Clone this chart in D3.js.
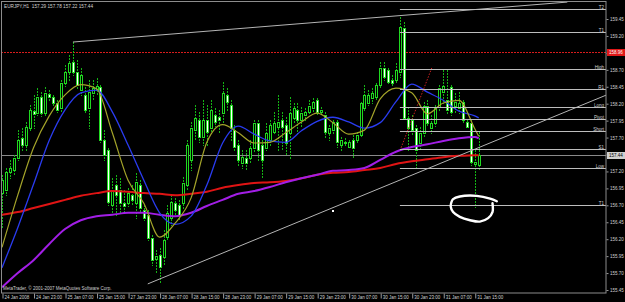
<!DOCTYPE html>
<html>
<head>
<meta charset="utf-8">
<script src="https://cdn.jsdelivr.net/npm/d3@7"></script>
<style>
html, body { margin: 0; padding: 0; background: #000; }
svg { display: block; }
text { font-family: "Liberation Sans", Arial, sans-serif; }
</style>
</head>
<body>
<svg id="chart" width="625" height="302"></svg>
<script>

//////////////////
// Data
//////////////////

// EURJPY H1, one entry per bar (bar 0 = 24 Jan 2008 15:00)
var opens = [156.88,156.93,157.19,157.22,157.40,157.69,157.59,157.84,158.09,158.06,
    158.30,158.06,158.34,158.30,158.21,158.14,158.50,158.67,158.81,158.67,
    158.40,158.33,158.14,158.36,158.40,158.45,157.66,157.52,156.70,157.00,
    156.93,156.73,156.73,156.85,156.73,157.00,156.63,156.56,156.22,155.91,
    155.97,155.94,156.23,156.51,156.73,156.70,156.73,157.00,157.37,157.81,
    157.96,157.71,157.96,157.84,158.03,158.00,158.06,158.33,158.18,157.81,
    157.59,157.32,157.40,157.40,157.55,157.91,157.59,157.55,157.66,157.78,
    157.86,157.96,157.89,157.77,157.99,158.11,157.96,158.03,158.08,158.14,
    158.25,158.08,158.03,157.77,157.81,157.93,157.59,157.63,157.56,157.66,
    157.66,157.74,158.14,158.21,158.28,158.30,158.48,158.73,158.70,158.55,
    158.55,158.67,159.32,157.99,157.96,157.84,157.62,157.77,158.17,157.84,
    157.91,158.15,158.37,158.25,158.45,158.17,158.14,158.22,157.93,157.91,
    157.31,157.29];

var highs = [157.15,157.25,157.37,157.44,157.81,157.84,157.93,158.18,158.33,158.43,
    158.37,158.45,158.40,158.33,158.25,158.55,158.77,158.92,159.11,158.84,
    158.73,158.45,158.55,158.55,158.58,158.48,157.81,157.55,157.10,157.15,
    157.10,156.93,156.96,157.00,157.18,157.07,156.70,156.63,156.26,156.04,
    156.07,156.34,156.70,156.85,156.81,156.78,157.12,157.66,157.93,158.18,
    158.08,158.25,158.18,158.25,158.14,158.11,158.52,158.43,158.25,157.89,
    157.66,157.52,157.52,157.66,157.96,157.96,157.66,157.91,157.96,158.08,
    158.33,158.08,158.00,158.30,158.21,158.21,158.15,158.14,158.25,158.28,
    158.28,158.15,158.08,157.89,157.96,157.96,157.71,157.69,157.66,157.74,
    157.78,158.22,158.48,158.40,158.43,158.50,158.81,158.81,158.73,158.62,
    158.80,159.48,159.41,158.15,158.03,157.89,157.86,158.22,158.25,158.03,
    158.18,158.48,158.70,158.70,158.48,158.36,158.37,158.25,157.96,157.96,
    157.52,157.78];

var lows = [156.37,156.85,157.10,157.15,157.37,157.52,157.52,157.81,157.84,158.03,
    158.02,158.03,158.25,158.17,158.08,158.08,158.46,158.55,158.62,158.43,
    158.33,158.08,157.84,158.25,158.33,157.63,157.37,156.70,156.57,156.56,
    156.60,156.60,156.69,156.70,156.51,156.60,156.48,156.19,155.82,155.72,
    155.55,155.82,156.19,156.41,156.57,156.48,156.66,156.93,157.22,157.66,
    157.63,157.59,157.59,157.78,157.87,157.77,157.93,158.11,157.66,157.52,
    157.29,157.25,157.22,157.34,157.49,157.37,157.12,157.52,157.59,157.77,
    157.52,157.52,157.44,157.40,157.93,157.77,157.86,157.96,158.06,158.08,
    158.03,158.03,157.71,157.66,157.77,157.56,157.52,157.57,157.55,157.41,
    157.63,157.71,158.11,158.18,158.21,158.25,158.45,158.55,158.50,158.48,
    158.52,158.59,157.96,157.52,157.74,157.27,157.52,157.71,157.87,157.77,
    157.87,158.11,158.21,158.06,158.03,158.06,158.06,157.91,157.84,157.29,
    156.67,157.22];

var closes = [157.07,157.19,157.25,157.40,157.66,157.59,157.86,158.11,158.05,158.30,
    158.06,158.36,158.30,158.21,158.11,158.50,158.67,158.80,158.67,158.48,
    158.62,158.11,158.37,158.43,158.46,157.66,157.44,156.75,156.93,156.85,
    156.73,156.69,156.88,156.78,157.04,156.66,156.51,156.22,155.89,155.95,
    155.79,156.19,156.59,156.75,156.63,156.56,157.03,157.59,157.84,157.99,
    157.71,157.96,157.78,158.11,157.93,157.96,158.36,158.22,157.84,157.56,
    157.37,157.41,157.32,157.55,157.91,157.52,157.37,157.77,157.89,157.91,
    157.93,157.86,157.62,158.06,158.14,157.96,158.06,158.08,158.17,158.22,
    158.08,158.11,157.78,157.84,157.93,157.63,157.66,157.62,157.63,157.55,
    157.74,158.21,158.33,158.33,158.36,158.48,158.73,158.59,158.52,158.50,
    158.70,159.33,157.99,157.84,157.81,157.52,157.77,158.17,157.91,157.91,
    158.14,158.43,158.46,158.11,158.08,158.22,158.21,157.96,157.86,157.34,
    157.34,157.44];

// moving averages, read every 4 bars
var maBars = [0,4,8,12,16,20,24,28,32,36,40,44,48,52,56,60,64,68,72,76,80,84,88,92,96,100,104,108,112,116,120,121];
var maFast = [156.08,156.85,157.55,158.02,158.33,158.48,158.42,157.77,157.07,156.73,156.23,156.44,156.81,157.63,157.89,157.77,
    157.62,157.63,157.77,157.93,158.06,157.92,157.75,157.81,158.27,158.43,158.36,158.05,158.21,158.25,157.83,157.72];
var maMid = [155.78,156.37,157.01,157.66,158.11,158.36,158.40,158.08,157.59,157.07,156.59,156.42,156.54,157.00,157.62,157.87,
    157.75,157.65,157.63,157.80,157.94,158.00,157.93,157.84,157.92,158.23,158.49,158.37,158.25,158.09,158.02,157.99];
var maSlow = [155.49,155.70,155.89,156.13,156.35,156.48,156.54,156.56,156.59,156.59,156.56,156.54,156.59,156.69,156.78,156.87,
    156.91,156.97,157.04,157.10,157.15,157.21,157.22,157.25,157.37,157.49,157.56,157.60,157.65,157.69,157.71,157.69];
var maLong = [156.56,156.60,156.66,156.72,156.78,156.84,156.88,156.91,156.90,156.88,156.87,156.85,156.87,156.90,156.96,157.00,
    157.03,157.04,157.06,157.10,157.15,157.18,157.19,157.22,157.25,157.31,157.35,157.38,157.41,157.43,157.44,157.44];

// horizontal levels drawn from bar 101 to the right edge
var levelNames = ["T2","T1","High","R1","Long","Pivot","Short","S1","Low","T1"];
var levelPrices = [159.60,159.26,158.71,158.42,158.15,157.97,157.80,157.53,157.25,156.70];
var levelStart = 101;

var redLinePrice = 158.96;
var bidPrice = 157.44;

// trend lines [bar, price]
var trendTop = [[18, 159.11], [143.5, 159.70]];
var trendLow = [[37, 155.54], [153.5, 158.33]];
var trendRed = [[101.3, 157.55], [109.1, 158.73]];

// hand drawn circle round the target
var circlePts = [[125.6,156.76],[123.9,156.80],[120.5,156.84],[116.2,156.83],[114.5,156.79],[114.1,156.75],
    [113.9,156.68],[114.5,156.60],[116.2,156.53],[118.8,156.48],[121.3,156.46],[123.4,156.51],[124.5,156.60],[124.5,156.73]];
var dotPt = [83.8, 156.63];

var priceTicks = [159.45,159.20,158.95,158.70,158.45,158.20,157.95,157.70,157.45,157.20,156.95,156.70,156.45,156.20,155.95,155.70,155.45];
var timeTicks = [0,8,16,24,32,40,48,56,64,72,80,88,96,104,112,120];
var timeLabels = ["24 Jan 2008","24 Jan 23:00","25 Jan 07:00","25 Jan 15:00","27 Jan 23:00","28 Jan 07:00",
    "28 Jan 15:00","28 Jan 23:00","29 Jan 07:00","29 Jan 15:00","29 Jan 23:00","30 Jan 07:00",
    "30 Jan 15:00","30 Jan 23:00","31 Jan 07:00","31 Jan 15:00"];

var titleText = "EURJPY,H1  157.29 157.78 157.22 157.44";
var copyText = "MetaTrader, \u00a9 2001-2007 MetaQuotes Software Corp.";

//////////////////
// Layout
//////////////////

var plotRight = 606;
var plotBottom = 293;
var fontSize = 4.5;
var textColor = "#d0d0d0";

var svg = d3.select("#chart");

svg.append("rect").attr("width", 625).attr("height", 302).attr("fill", "#000");

var x = d3.scaleLinear().domain([0, 121]).range([2, 478.7]);
var y = d3.scaleLinear().domain([155.45, 159.45]).range([290, 19]);

svg.append("clipPath").attr("id", "plotclip")
    .append("rect").attr("x", 1).attr("y", 1).attr("width", plotRight - 1).attr("height", plotBottom - 1);

var plot = svg.append("g").attr("clip-path", "url(#plotclip)");

function px(v) { return Math.round(v) + 0.5; }

//////////////////
// Full width lines
//////////////////

plot.append("line")
    .attr("x1", 1).attr("x2", plotRight)
    .attr("y1", px(y(redLinePrice))).attr("y2", px(y(redLinePrice)))
    .attr("stroke", "#d81c1c").attr("stroke-dasharray", "2,1");

plot.append("line")
    .attr("x1", 1).attr("x2", plotRight)
    .attr("y1", px(y(bidPrice))).attr("y2", px(y(bidPrice)))
    .attr("stroke", "#8a8a8a");

//////////////////
// Candles
//////////////////

var bars = d3.range(opens.length).map(function (i) {
    return { i: i, o: opens[i], h: highs[i], l: lows[i], c: closes[i] };
});

var candle = plot.append("g").selectAll("g")
    .data(bars)
    .enter()
    .append("g");

candle.append("line")
    .attr("x1", function (d) { return px(x(d.i)); })
    .attr("x2", function (d) { return px(x(d.i)); })
    .attr("y1", function (d) { return Math.round(y(d.h)); })
    .attr("y2", function (d) { return Math.round(y(d.l)) + 1; })
    .attr("stroke", "#14b414")
    .attr("stroke-dasharray", "2,1");

candle.append("rect")
    .attr("x", function (d) { return Math.round(x(d.i)) - 0.5; })
    .attr("width", 2)
    .attr("y", function (d) { return px(y(Math.max(d.o, d.c))); })
    .attr("height", function (d) {
        return Math.max(Math.round(y(Math.min(d.o, d.c))) - Math.round(y(Math.max(d.o, d.c))), 0.01);
    })
    .attr("fill", function (d) { return d.c >= d.o ? "#000" : "#fff"; })
    .attr("stroke", "#20d820");

//////////////////
// Moving averages
//////////////////

function maLine(values) {
    return d3.line()
        .x(function (d, i) { return x(maBars[i]); })
        .y(function (d) { return y(d); })
        .curve(d3.curveMonotoneX)(values);
}

plot.append("path").attr("d", maLine(maLong))
    .attr("fill", "none").attr("stroke", "#e01414").attr("stroke-width", 2);
plot.append("path").attr("d", maLine(maSlow))
    .attr("fill", "none").attr("stroke", "#a21ee6").attr("stroke-width", 2);
plot.append("path").attr("d", maLine(maMid))
    .attr("fill", "none").attr("stroke", "#2a3cf0").attr("stroke-width", 1.3);
plot.append("path").attr("d", maLine(maFast))
    .attr("fill", "none").attr("stroke", "#a4a42a").attr("stroke-width", 1.2);

//////////////////
// Objects
//////////////////

var segLine = d3.line()
    .x(function (d) { return x(d[0]); })
    .y(function (d) { return y(d[1]); });

plot.append("path").attr("d", segLine(trendTop))
    .attr("fill", "none").attr("stroke", "#b4b4b4").attr("stroke-width", 1);
plot.append("path").attr("d", segLine(trendLow))
    .attr("fill", "none").attr("stroke", "#b4b4b4").attr("stroke-width", 1);
plot.append("path").attr("d", segLine(trendRed))
    .attr("fill", "none").attr("stroke", "#c82020").attr("stroke-width", 1)
    .attr("stroke-dasharray", "1.5,1.5");

var levels = plot.append("g").selectAll("g")
    .data(levelPrices)
    .enter()
    .append("g");

levels.append("line")
    .attr("x1", x(levelStart)).attr("x2", plotRight)
    .attr("y1", function (d) { return px(y(d)); })
    .attr("y2", function (d) { return px(y(d)); })
    .attr("stroke", "#bdbdbd");

levels.append("text")
    .attr("x", plotRight - 2)
    .attr("y", function (d) { return Math.round(y(d)) - 0.5; })
    .attr("text-anchor", "end")
    .attr("font-size", fontSize)
    .attr("fill", textColor)
    .text(function (d, i) { return levelNames[i]; });

plot.append("path")
    .attr("d", segLine.curve(d3.curveCatmullRom)(circlePts))
    .attr("fill", "none").attr("stroke", "#fff").attr("stroke-width", 2.4)
    .attr("stroke-linecap", "round").attr("stroke-linejoin", "round");

plot.append("rect")
    .attr("x", Math.round(x(dotPt[0]))).attr("y", Math.round(y(dotPt[1])))
    .attr("width", 2).attr("height", 2).attr("fill", "#fff");

//////////////////
// Frame and axes
//////////////////

svg.append("rect")
    .attr("x", 1.5).attr("y", 1.5)
    .attr("width", plotRight - 1.5).attr("height", plotBottom - 1.5)
    .attr("fill", "none").attr("stroke", "#8c8c8c");

var yAxis = svg.append("g")
    .attr("transform", "translate(" + (plotRight + 0.5) + ",0)")
    .call(d3.axisRight(y).tickValues(priceTicks).tickSize(2).tickPadding(1.5).tickFormat(d3.format(".2f")));

var xAxis = svg.append("g")
    .attr("transform", "translate(0," + (plotBottom + 0.5) + ")")
    .call(d3.axisBottom(x).tickValues(timeTicks).tickSize(5).tickPadding(0)
        .tickFormat(function (d, i) { return timeLabels[i]; }));

[yAxis, xAxis].forEach(function (ax) {
    ax.select(".domain").remove();
    ax.selectAll(".tick line").attr("stroke", "#9a9a9a");
    ax.selectAll(".tick text")
        .attr("fill", textColor)
        .attr("font-size", fontSize)
        .attr("font-family", "Liberation Sans, Arial, sans-serif");
});

xAxis.selectAll(".tick line").attr("transform", "translate(0.5,0)");
xAxis.selectAll(".tick text")
    .attr("text-anchor", "start")
    .attr("x", 2)
    .attr("y", 2.5)
    .attr("dy", "0.71em");

// price boxes on the axis
function priceBox(price, bg, fg) {
    var cy = Math.round(y(price));
    svg.append("rect")
        .attr("x", plotRight + 1).attr("y", cy - 3)
        .attr("width", 18).attr("height", 7).attr("fill", bg);
    svg.append("text")
        .attr("x", plotRight + 3).attr("y", cy + 2)
        .attr("font-size", fontSize).attr("fill", fg)
        .text(price.toFixed(2));
}
priceBox(redLinePrice, "#e01818", "#ffffff");
priceBox(bidPrice, "#d0d0d0", "#000000");

svg.append("text")
    .attr("x", 4).attr("y", 8)
    .attr("font-size", 4.7).attr("fill", textColor)
    .attr("xml:space", "preserve")
    .text(titleText);

svg.append("text")
    .attr("x", 3).attr("y", 290)
    .attr("font-size", fontSize).attr("fill", textColor)
    .text(copyText);

</script>
</body>
</html>
